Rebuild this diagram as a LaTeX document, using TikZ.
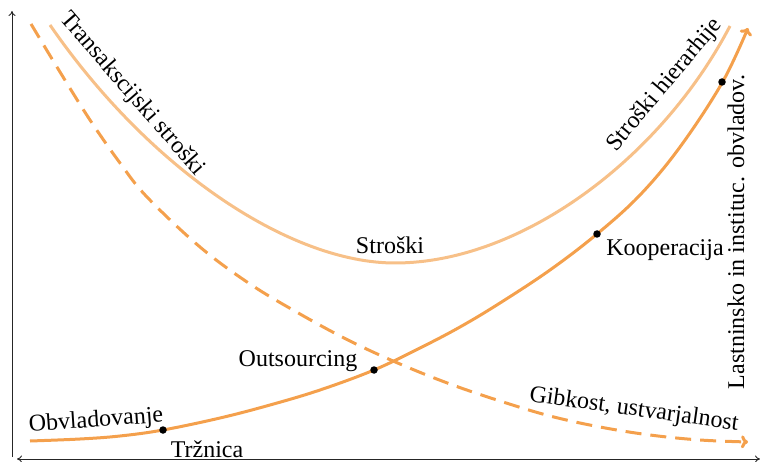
\documentclass[tikz,border=0pt]{standalone}
\usepackage{fontspec}
\setmainfont{Liberation Serif}
\usetikzlibrary{arrows.meta}
\definecolor{darkor}{HTML}{F4A04C}
\definecolor{lightor}{HTML}{F7C088}
\begin{document}
\begin{tikzpicture}[x=1pt,y=-1pt,font=\fontsize{24}{28}\selectfont,
  axis/.style={line width=0.9pt,black!85},
  curve/.style={line width=3pt},
  lbl/.style={inner sep=0pt},
  dot/.style={circle,fill=black,inner sep=0pt,minimum size=7.5pt}]
\useasboundingbox (0,0) rectangle (760,462);
% axes
\coordinate (yb) at (12,457);
\coordinate (yt) at (12,11);
\coordinate (xl) at (17,459);
\coordinate (xr) at (760,459);
\draw[axis,-{To[length=5pt,width=7pt]}] (yb) -- (yt);
\draw[axis,{To[length=5pt,width=7pt]}-{To[length=5pt,width=7pt]}] (xr) -- (xl);
% costs (light U curve)
\coordinate (ls) at (50,25);
\coordinate (lm) at (395,263);
\coordinate (le) at (730,26);
\draw[curve,lightor] (ls) .. controls (150,170) and (290,263) .. (lm)
  .. controls (520,263) and (660,160) .. (le);
% dashed flexibility curve
\draw[curve,darkor,dash pattern=on 16pt off 9pt,-{To[length=7pt,width=13pt]}] plot[smooth,tension=0.6] coordinates {
 (31,24) (60,72) (90,120) (120,163) (147,197) (200,247) (250,284) (300,314)
 (350,341) (400,364) (450,384) (500,401) (550,416) (600,427) (650,435) (700,440) (748,442)};
% solid governance curve
\draw[curve,darkor,-{To[length=7pt,width=13pt]}] plot[smooth,tension=0.6] coordinates {
 (30,441) (80,439) (120,436) (163,430) (220,418) (270,405) (320,390) (374,370)
 (420,348) (460,327) (500,303) (550,270) (597,234) (640,195) (680,147) (722,83) (748,28)};
% dots
\node[dot] (trz) at (163,430) {};
\node[dot] (out) at (374,370) {};
\node[dot] (koo) at (597,234) {};
\node[dot] (top) at (722,82) {};
% labels
\node[lbl,rotate=-49] (trans) at (132,94) {Transakscijski stroški};
\node[lbl,rotate=50] (hier) at (665,85) {Stroški hierarhije};
\node[lbl] (str) at (390,245) {Stroški};
\node[lbl,rotate=4] (obv) at (96,421) {Obvladovanje};
\node[lbl] (trzl) at (207,449) {Tržnica};
\node[lbl] (outl) at (298,361) {Outsourcing};
\node[lbl] (kool) at (665,250) {Kooperacija};
\node[lbl,rotate=-8] (gib) at (634,410) {Gibkost, ustvarjalnost};
\node[lbl,rotate=90] (last) at (736,232) {Lastninsko in instituc. obvladov.};
\end{tikzpicture}
\end{document}
